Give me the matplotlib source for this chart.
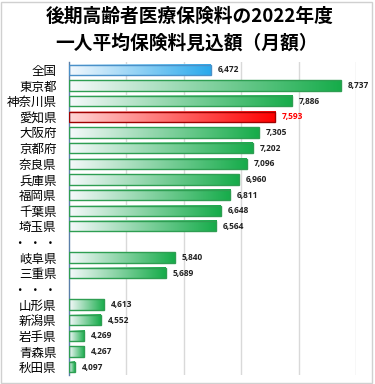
import matplotlib
matplotlib.use("Agg")
import matplotlib.pyplot as plt
from matplotlib.colors import LinearSegmentedColormap
from matplotlib.patches import Rectangle
import numpy as np

plt.rcParams['font.family'] = ['Noto Sans CJK JP', 'DejaVu Sans']

# data (None = gap row shown with dots)
labels = ['全国', '東京都', '神奈川県', '愛知県', '大阪府', '京都府', '奈良県', '兵庫県',
          '福岡県', '千葉県', '埼玉県', '・ ・ ・', '岐阜県', '三重県', '・ ・ ・',
          '山形県', '新潟県', '岩手県', '青森県', '秋田県']
values = [6472, 8737, 7886, 7593, 7305, 7202, 7096, 6960,
          6811, 6648, 6564, None, 5840, 5689, None,
          4613, 4552, 4269, 4267, 4097]
kinds = ['national', 'g', 'g', 'aichi', 'g', 'g', 'g', 'g',
         'g', 'g', 'g', None, 'g', 'g', None,
         'g', 'g', 'g', 'g', 'g']

styles = {
    'g': ('#f7f9fc', '#16ac4a', '#2e9e52'),
    'national': ('#f3f8fd', '#2aa9ec', '#4a90c8'),
    'aichi': ('#ffd6d6', '#ff0000', '#a00000'),
}

XMIN, XMAX = 4000, 9000

fig = plt.figure(figsize=(3.75, 3.84), dpi=100)
ax = fig.add_axes([69 / 375, 1 - 375 / 384, (356 - 69) / 375, (375 - 62) / 384])

n = len(labels)
ys = np.arange(n)
h = 0.66
grad = np.linspace(0, 1, 256).reshape(1, -1)

for y, v, k in zip(ys, values, kinds):
    if v is None:
        continue
    c0, c1, ec = styles[k]
    cmap = LinearSegmentedColormap.from_list(k, [c0, c1])
    ax.imshow(grad, cmap=cmap, aspect='auto', interpolation='bicubic',
              extent=(XMIN, v, y + h / 2, y - h / 2), zorder=2)
    ax.add_patch(Rectangle((XMIN, y - h / 2), v - XMIN, h, fill=False,
                           edgecolor=ec, linewidth=1.0, zorder=3))
    ax.text(v + 120, y, f'{v:,}', va='center', ha='left', fontsize=6,
            fontweight='bold', family=['Open Sans', 'DejaVu Sans'],
            color='#ff0000' if k == 'aichi' else '#222222', clip_on=False)

ax.set_xlim(XMIN, XMAX)
ax.set_ylim(n - 0.5, -0.5)
ax.set_xticks(np.arange(5000, 9001, 1000))
ax.xaxis.grid(True, color='#d9d9d9', linewidth=1.0, zorder=0)
ax.set_axisbelow(True)
ax.tick_params(axis='x', length=0, labelbottom=False)
ax.set_yticks(ys)
ax.set_yticklabels(labels, fontsize=9)
ax.tick_params(axis='y', length=0, pad=9)
for s in ['top', 'right', 'bottom']:
    ax.spines[s].set_visible(False)
ax.spines['left'].set_color('#5a7fa8')
ax.spines['left'].set_linewidth(1.0)

fig.text(0.505, 1 - 16 / 384, '後期高齢者医療保険料の2022年度', ha='center', va='center',
         fontsize=13.5, fontweight='bold')
fig.text(0.497, 1 - 43 / 384, '一人平均保険料見込額（月額）', ha='center', va='center',
         fontsize=13.5, fontweight='bold')

fig.patches.append(Rectangle((1 / 375, 1 / 384), 371 / 375, 381 / 384,
                             transform=fig.transFigure, fill=False,
                             edgecolor='#d0d0d0', linewidth=1.0))

fig.savefig('out.png', dpi=100)
